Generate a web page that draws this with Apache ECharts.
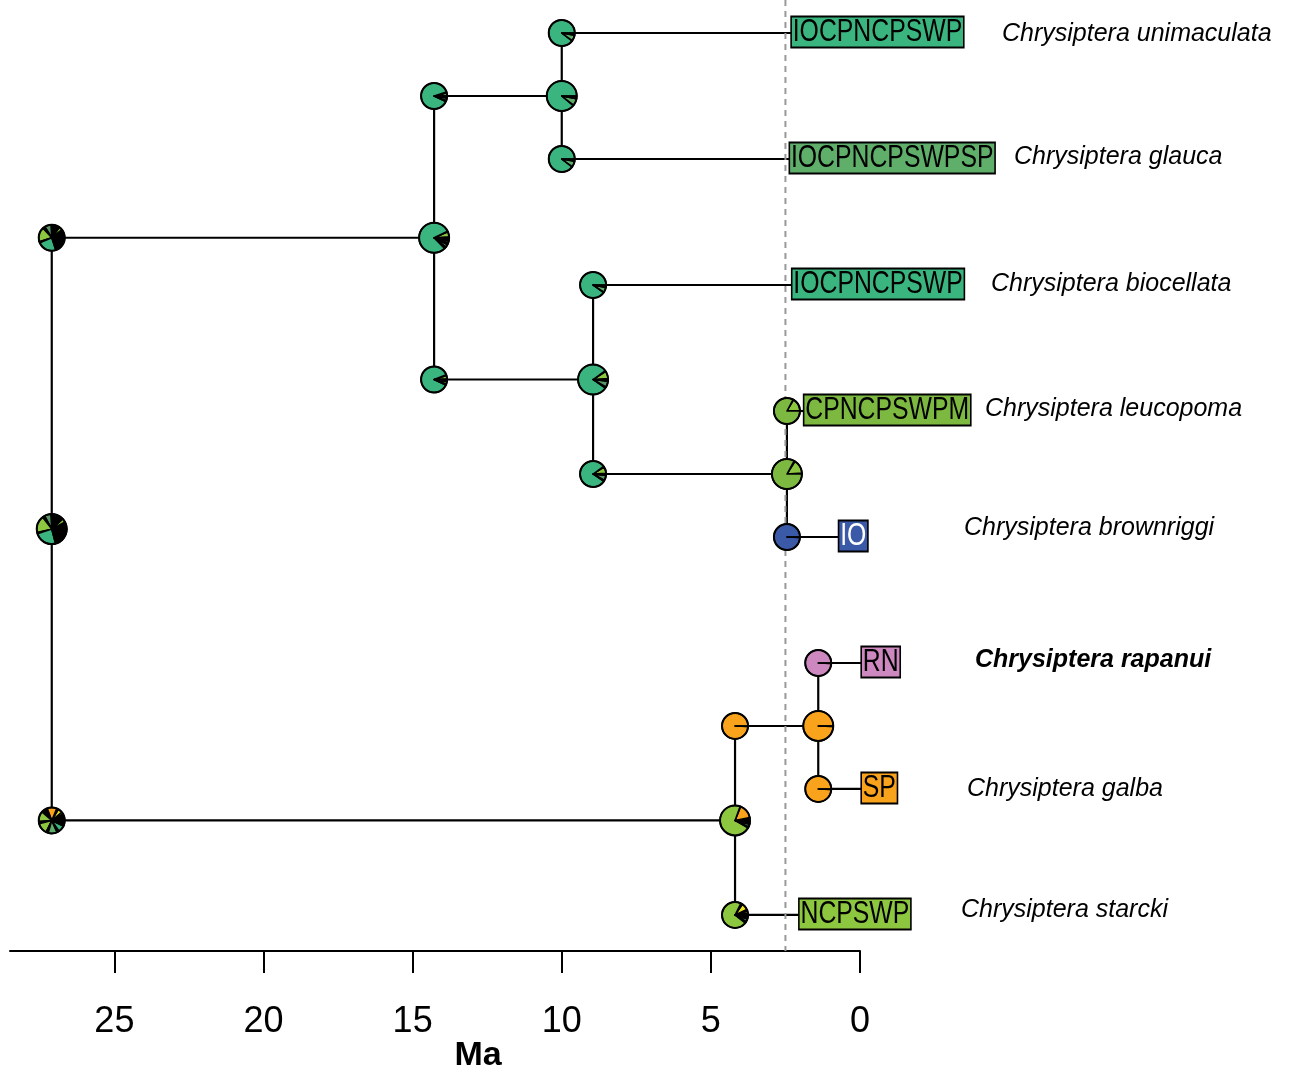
<!DOCTYPE html>
<html>
<head>
<meta charset="utf-8">
<script src="https://cdn.jsdelivr.net/npm/echarts@6/dist/echarts.min.js"></script>
<style>
  html, body { margin: 0; padding: 0; background: #ffffff; }
  #chart { width: 1294px; height: 1074px; }
</style>
</head>
<body>
<div id="chart"></div>
<script>
// ---- Tips, listed top to bottom ----
const tipIds = ['t0', 't1', 't2', 't3', 't4', 't5', 't6', 't7'];
const tipNames = ['Chrysiptera unimaculata', 'Chrysiptera glauca', 'Chrysiptera biocellata',
  'Chrysiptera leucopoma', 'Chrysiptera brownriggi', 'Chrysiptera rapanui',
  'Chrysiptera galba', 'Chrysiptera starcki'];
const tipRanges = ['IOCPNCPSWP', 'IOCPNCPSWPSP', 'IOCPNCPSWP', 'CPNCPSWPM', 'IO', 'RN', 'SP', 'NCPSWP'];
const tipAges = [2.35, 2.41, 2.33, 1.93, 0.76, 0, 0, 2.09];
const tipBold = [false, false, false, false, false, true, false, false];

// ---- Internal nodes ----
const nodeIds = ['root', 'n1', 'n2', 'n3', 'n4', 'n5', 'n6'];
const nodeAges = [27.1, 14.28, 10.0, 8.95, 2.45, 4.19, 1.40];
const nodeChildren = [['n1', 'n5'], ['n2', 'n3'], ['t0', 't1'], ['t2', 'n4'], ['t3', 't4'], ['n6', 't7'], ['t5', 't6']];

// ---- Ancestral range probabilities (%), counter-clockwise from 3 o'clock ----
// 'minor' gathers the many low-probability ranges (drawn as black slivers)
const nodePies = [
  // root
  [['minor', 8], ['NCPSWP', 4], ['minor', 5], ['r_blue', 2], ['minor', 1], ['IOCPNCPSWP', 2], ['minor', 1.5],
   ['r_blue', 1.5], ['minor', 1], ['r_dkgreen', 7], ['minor', 2.5], ['NCPSWP', 18], ['minor', 1.5],
   ['IOCPNCPSWP', 24], ['minor', 21]],
  // n1
  [['minor', 1], ['NCPSWP', 5.5], ['minor', 0.8], ['IOCPNCPSWP', 80.2], ['minor', 2], ['r_dkgreen', 3], ['minor', 2],
   ['IOCPNCPSWP', 2], ['minor', 3.5]],
  // n2
  [['IOCPNCPSWP', 89], ['minor', 0.6], ['IOCPNCPSWPSP', 7.4], ['minor', 3]],
  // n3
  [['minor', 1], ['NCPSWP', 8], ['minor', 1], ['IOCPNCPSWP', 80.3], ['minor', 1.4], ['r_dkgreen', 6.4], ['minor', 1.9]],
  // n4
  [['minor', 1], ['NCPSWP', 15], ['minor', 1], ['CPNCPSWPM', 83]],
  // n5
  [['minor', 3.3], ['SP', 15.6], ['minor', 0.6], ['NCPSWP', 72.2], ['minor', 1.4], ['IOCPNCPSWP', 2.8],
   ['minor', 1.4], ['r_dkgreen', 1.7], ['minor', 1]],
  // n6
  [['SP', 99.4], ['minor', 0.6]]
];

// Range probabilities at the start of each branch, keyed by the child it leads to
const cornerPies = {
  n1: [['minor', 11], ['NCPSWP', 4], ['minor', 4], ['r_blue', 2], ['minor', 1], ['IOCPNCPSWP', 2], ['minor', 2],
       ['r_dkgreen', 8], ['minor', 3], ['NCPSWP', 18], ['minor', 1.5], ['IOCPNCPSWP', 23.5], ['minor', 20]],
  n5: [['minor', 8.3], ['r_dkgreen', 2.8], ['r_yellow', 5.5], ['minor', 2.2], ['SP', 12.2], ['minor', 7.8],
       ['NCPSWP', 12.5], ['minor', 2.8], ['NCPSWP', 13.9], ['minor', 2.8], ['IOCPNCPSWPSP', 11.1], ['minor', 2.8],
       ['IOCPNCPSWP', 8.3], ['minor', 7.2]],
  n2: [['minor', 1], ['NCPSWP', 3], ['minor', 1], ['IOCPNCPSWP', 88], ['minor', 1.5], ['IOCPNCPSWPSP', 3], ['minor', 2.5]],
  n3: [['minor', 1], ['NCPSWP', 4], ['minor', 1], ['IOCPNCPSWP', 87], ['minor', 1.5], ['r_dkgreen', 3], ['minor', 2.5]],
  t0: [['IOCPNCPSWP', 89.5], ['minor', 0.5], ['IOCPNCPSWPSP', 7.2], ['minor', 2.8]],
  t1: [['IOCPNCPSWP', 89.5], ['minor', 0.5], ['IOCPNCPSWPSP', 7.2], ['minor', 2.8]],
  t2: [['IOCPNCPSWP', 90], ['minor', 0.8], ['IOCPNCPSWPSP', 6.2], ['minor', 3]],
  n4: [['minor', 1], ['NCPSWP', 8], ['minor', 1], ['IOCPNCPSWP', 80.5], ['minor', 1.5], ['r_dkgreen', 6], ['minor', 2]],
  t3: [['minor', 0.6], ['NCPSWP', 16], ['minor', 0.6], ['CPNCPSWPM', 82.8]],
  t4: [['IO', 99.4], ['minor', 0.6]],
  n6: [['SP', 99.4], ['minor', 0.6]],
  t7: [['minor', 2.2], ['IOCPNCPSWPSP', 2.8], ['minor', 2], ['r_yellow', 8.5], ['minor', 2.2], ['NCPSWP', 72],
       ['minor', 2.2], ['IOCPNCPSWP', 3.3], ['minor', 2.8], ['IOCPNCPSWPSP', 1.5], ['minor', 0.8]],
  t5: [['RN', 99.4], ['minor', 0.6]],
  t6: [['SP', 99.4], ['minor', 0.6]]
};

// Dashed reference time (Ma)
const refAge = 2.5;
const axisTicks = [0, 5, 10, 15, 20, 25];

// ---- Styling ----
const rangeColors = {
  IOCPNCPSWP: '#3BB57F',
  IOCPNCPSWPSP: '#5FAE6A',
  CPNCPSWPM: '#7DB940',
  NCPSWP: '#8DC63F',
  IO: '#3A5AA8',
  RN: '#CC88BF',
  SP: '#F9A21B',
  r_yellow: '#EFE51F',
  r_blue: '#2E9AA6',
  r_dkgreen: '#5A9668',
  minor: '#000000'
};
const boxTextColor = { IO: '#ffffff' };
// species label placement, px relative to the 0 Ma position / tip row
const labelDx = [142, 154, 131, 125, 104, 115, 107, 101];
const labelDy = [1, -2, -1, -2, -9, -3, 0, -5];

// ---- Tree layout: tip rows 1..8, internal rows = mean of children ----
const ageOf = {}, rowOf = {}, parentOf = {};
tipIds.forEach((id, i) => { ageOf[id] = tipAges[i]; rowOf[id] = i + 1; });
nodeIds.forEach((id, i) => {
  ageOf[id] = nodeAges[i];
  nodeChildren[i].forEach(c => { parentOf[c] = id; });
});
function rowFor(id) {
  if (rowOf[id] !== undefined) return rowOf[id];
  const kids = nodeChildren[nodeIds.indexOf(id)];
  const r = kids.reduce((s, k) => s + rowFor(k), 0) / kids.length;
  rowOf[id] = r;
  return r;
}
nodeIds.forEach(rowFor);

// Branch segments [x1, y1, x2, y2]
const segments = [];
nodeIds.forEach((id, i) => {
  const kids = nodeChildren[i];
  const rows = kids.map(k => rowOf[k]);
  segments.push([ageOf[id], Math.min(...rows), ageOf[id], Math.max(...rows)]);
  kids.forEach(k => segments.push([ageOf[id], rowOf[k], ageOf[k], rowOf[k]]));
});

// Pies: [age, row, pieIndex, isNode]
const pieList = [];
const pieData = [];
Object.keys(cornerPies).forEach(k => {
  pieList.push(cornerPies[k]);
  pieData.push([ageOf[parentOf[k]], rowOf[k], pieList.length - 1, 0]);
});
nodeIds.forEach((id, i) => {
  pieList.push(nodePies[i]);
  pieData.push([ageOf[id], rowOf[id], pieList.length - 1, 1]);
});

const tipData = tipIds.map((id, i) => [ageOf[id], rowOf[id], i]);

const yMin = 0.738, yMax = 8.286;
const FONT = '"Liberation Sans", Arial, Helvetica, sans-serif';

const chart = echarts.init(document.getElementById('chart'), null, { renderer: 'canvas' });
chart.setOption({
  animation: false,
  backgroundColor: '#ffffff',
  grid: { left: 10, right: 434, top: 0, bottom: 123, containLabel: false },
  xAxis: {
    type: 'value', inverse: true, min: 0, max: 28.5,
    axisLine: { show: true, onZero: false, lineStyle: { color: '#000', width: 2 } },
    axisTick: { show: true, customValues: axisTicks, length: 22, lineStyle: { color: '#000', width: 2 } },
    axisLabel: { show: true, customValues: axisTicks, fontSize: 36, color: '#000', fontFamily: FONT, margin: 53 },
    splitLine: { show: false }
  },
  yAxis: { type: 'value', inverse: true, min: yMin, max: yMax, show: false },
  graphic: [{
    type: 'text', x: 478, y: 1056,
    style: { text: 'Ma', font: 'bold 34px ' + FONT, fill: '#000', align: 'center', verticalAlign: 'middle' }
  }],
  series: [
    {
      type: 'custom', name: 'branches', clip: false, z: 1,
      data: segments,
      encode: { x: [0, 2], y: [1, 3] },
      renderItem: function (params, api) {
        const a = api.coord([api.value(0), api.value(1)]);
        const b = api.coord([api.value(2), api.value(3)]);
        return {
          type: 'line',
          shape: { x1: a[0], y1: a[1], x2: b[0], y2: b[1] },
          style: { stroke: '#000', lineWidth: 2.2, lineCap: 'square' }
        };
      }
    },
    {
      type: 'line', name: 'reference', z: 2, symbol: 'none', silent: true,
      data: [[refAge, yMin], [refAge, yMax]],
      lineStyle: { color: '#999999', width: 2, type: [6, 5] }
    },
    {
      type: 'custom', name: 'pies', clip: false, z: 3,
      data: pieData,
      encode: { x: 0, y: 1 },
      renderItem: function (params, api) {
        const c = api.coord([api.value(0), api.value(1)]);
        const slices = pieList[api.value(2)];
        const r = api.value(3) ? 15 : 13;
        const total = slices.reduce((s, d) => s + d[1], 0);
        let a = 0;
        const children = [];
        slices.forEach(function (d) {
          const a1 = a + d[1] / total * Math.PI * 2;
          children.push({
            type: 'sector',
            shape: { cx: c[0], cy: c[1], r: r, r0: 0, startAngle: -a1, endAngle: -a, clockwise: true },
            style: { fill: rangeColors[d[0]], stroke: '#000', lineWidth: 1.5, lineJoin: 'round' }
          });
          a = a1;
        });
        children.push({
          type: 'circle', shape: { cx: c[0], cy: c[1], r: r },
          style: { fill: 'none', stroke: '#000', lineWidth: 2 }
        });
        return { type: 'group', children: children };
      }
    },
    {
      type: 'custom', name: 'tips', clip: false, z: 4,
      data: tipData,
      encode: { x: 0, y: 1 },
      renderItem: function (params, api) {
        const c = api.coord([api.value(0), api.value(1)]);
        const i = api.value(2);
        const range = tipRanges[i];
        const zero = api.coord([0, api.value(1)]);
        return {
          type: 'group',
          children: [
            {
              // condensed range label in a filled box
              type: 'text', x: c[0] + 2, y: c[1] - 1, scaleX: 0.8, scaleY: 1,
              style: {
                text: range, font: '31px ' + FONT, fill: boxTextColor[range] || '#000',
                backgroundColor: rangeColors[range], borderColor: '#000', borderWidth: 2,
                padding: [2, 1, 2, 1], lineHeight: 25, align: 'left', verticalAlign: 'middle'
              }
            },
            {
              type: 'text', x: zero[0] + labelDx[i], y: c[1] + labelDy[i],
              style: {
                text: tipNames[i],
                font: 'italic ' + (tipBold[i] ? 'bold ' : '') + '25px ' + FONT,
                fill: '#000', align: 'left', verticalAlign: 'middle'
              }
            }
          ]
        };
      }
    }
  ]
});
</script>
</body>
</html>
